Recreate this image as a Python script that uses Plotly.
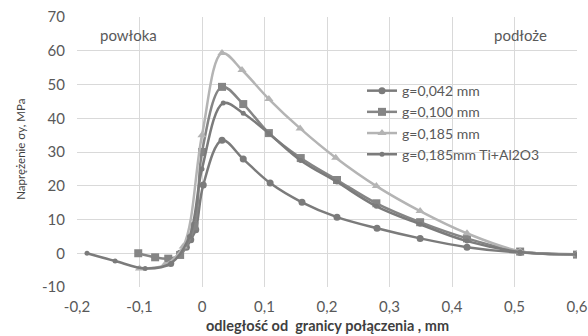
import plotly.graph_objects as go

# Data
x_a = [-0.05, -0.035, -0.025, -0.018, -0.01, 0.002, 0.032, 0.066, 0.109, 0.16, 0.216, 0.28, 0.349, 0.424, 0.509, 0.6]
y_a = [-3.0, 0.0, 1.8, 4.0, 7.0, 20.2, 33.5, 27.9, 20.8, 15.1, 10.7, 7.4, 4.4, 1.8, 0.2, -0.3]

x_b = [-0.102, -0.075, -0.054, -0.035, -0.012, 0.0, 0.032, 0.066, 0.107, 0.158, 0.216, 0.279, 0.349, 0.424, 0.509, 0.6]
y_b = [0.0, -1.2, -1.6, -0.5, 8.0, 30.0, 49.3, 44.2, 35.6, 28.2, 21.7, 14.8, 9.2, 4.4, 0.5, -0.4]

x_c = [-0.1, -0.06, -0.03, 0.0, 0.032, 0.064, 0.107, 0.157, 0.214, 0.279, 0.349, 0.424, 0.509, 0.6]
y_c = [-4.5, -3.5, 2.0, 35.0, 59.3, 54.3, 45.7, 37.0, 28.3, 19.9, 12.5, 5.9, 0.6, -0.4]

x_d = [-0.184, -0.139, -0.091, -0.05, -0.02, 0.0, 0.034, 0.066, 0.107, 0.158, 0.216, 0.279, 0.349, 0.424, 0.509, 0.6]
y_d = [0.0, -2.3, -4.5, -3.0, 5.0, 25.0, 44.5, 41.5, 35.5, 27.5, 21.1, 13.9, 8.6, 3.6, 0.4, -0.4]

names = ["g=0,042 mm", "g=0,100 mm", "g=0,185 mm", "g=0,185mm Ti+Al2O3"]

x_ticks = [-0.2, -0.1, 0, 0.1, 0.2, 0.3, 0.4, 0.5, 0.6]
x_tick_labels = ["-0,2", "-0,1", "0", "0,1", "0,2", "0,3", "0,4", "0,5", "0,6"]
y_ticks = [-10, 0, 10, 20, 30, 40, 50, 60, 70]
y_tick_labels = ["-10", "0", "10", "20", "30", "40", "50", "60", "70"]

FONT = "Lato"
TXT = "#595959"

fig = go.Figure()
series = [
    (x_a, y_a, names[0], "#7b7b7b", "circle", 7),
    (x_b, y_b, names[1], "#858585", "square", 8),
    (x_c, y_c, names[2], "#b4b4b4", "triangle-up", 8),
    (x_d, y_d, names[3], "#7b7b7b", "circle", 5),
]
for xs, ys, nm, col, sym, sz in series:
    fig.add_trace(go.Scatter(
        x=xs, y=ys, name=nm, mode="lines+markers",
        line=dict(color=col, width=2.5, shape="spline", smoothing=1.0),
        marker=dict(symbol=sym, size=sz, color=col),
    ))

fig.add_annotation(x=-0.118, y=64.7, text="powłoka", showarrow=False,
                   font=dict(family=FONT, size=15, color=TXT))
fig.add_annotation(x=0.509, y=64.7, text="podłoże", showarrow=False,
                   font=dict(family=FONT, size=15, color=TXT))

# axis titles as annotations for precise placement
fig.add_annotation(xref="paper", yref="paper", x=0.5, y=-0.105, yanchor="top",
                   text="<b>odległość od  granicy połączenia , mm</b>", showarrow=False,
                   font=dict(family=FONT, size=14.5, color="#3f3f3f"))
fig.add_annotation(xref="paper", yref="paper", x=-0.13, y=0.51, textangle=-90,
                   text="Naprężenie σy, MPa", showarrow=False,
                   font=dict(family=FONT, size=11.5, color="#3f3f3f"))

fig.update_layout(
    width=588, height=336,
    margin=dict(l=77, r=11, t=17, b=49),
    paper_bgcolor="white", plot_bgcolor="white",
    font=dict(family=FONT, size=12, color=TXT),
    showlegend=True,
    legend=dict(x=0.57, y=0.785, xanchor="left", yanchor="top",
                bgcolor="rgba(0,0,0,0)", tracegroupgap=0,
                font=dict(family=FONT, size=14, color=TXT)),
    xaxis=dict(range=[-0.2, 0.6], tickvals=x_ticks, ticktext=x_tick_labels,
               showgrid=True, gridcolor="#d9d9d9", gridwidth=1,
               zeroline=False, showline=False, automargin=False,
               ticklabeloverflow="allow",
               ticks="outside", ticklen=6, tickcolor="rgba(0,0,0,0)",
               tickfont=dict(family=FONT, size=15, color=TXT)),
    yaxis=dict(range=[-10, 70], tickvals=y_ticks, ticktext=y_tick_labels,
               showgrid=True, gridcolor="#d9d9d9", gridwidth=1,
               zeroline=False, showline=False, automargin=False,
               ticklabeloverflow="allow",
               ticks="outside", ticklen=8, tickcolor="rgba(0,0,0,0)",
               tickfont=dict(family=FONT, size=15, color=TXT)),
)

fig.write_html("out.html", config={"displayModeBar": False},
               post_script="document.body.style.margin='0px';")
